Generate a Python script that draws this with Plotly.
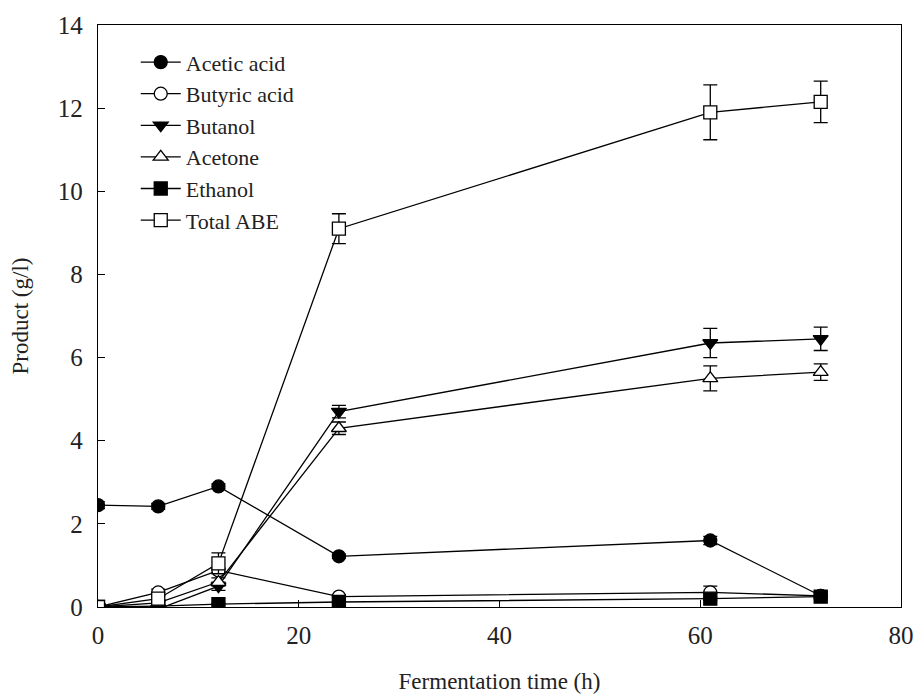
import plotly.graph_objects as go

time_h = [0, 6, 12, 24, 61, 72]

acetic = [2.45, 2.42, 2.9, 1.22, 1.6, 0.27]
acetic_err = [0.08, 0.07, 0.06, 0.05, 0.1, 0.1]

butyric = [0.0, 0.35, 0.88, 0.25, 0.35, 0.27]
butyric_err = [0.03, 0.08, 0.05, 0.05, 0.15, 0.06]

butanol = [0.0, -0.05, 0.5, 4.7, 6.35, 6.45]
butanol_err = [0.02, 0.05, 0.1, 0.15, 0.35, 0.28]

acetone = [0.0, 0.1, 0.6, 4.3, 5.5, 5.65]
acetone_err = [0.02, 0.05, 0.1, 0.15, 0.3, 0.2]

ethanol = [0.0, 0.02, 0.07, 0.12, 0.2, 0.25]
ethanol_err = [0.01, 0.01, 0.02, 0.03, 0.04, 0.04]

total_abe = [0.0, 0.2, 1.05, 9.1, 11.9, 12.15]
total_err = [0.03, 0.08, 0.25, 0.36, 0.66, 0.5]

series = [
    ("Acetic acid", acetic, acetic_err, "circle", "black"),
    ("Butyric acid", butyric, butyric_err, "circle", "white"),
    ("Butanol", butanol, butanol_err, "triangle-down", "black"),
    ("Acetone", acetone, acetone_err, "triangle-up", "white"),
    ("Ethanol", ethanol, ethanol_err, "square", "black"),
    ("Total ABE", total_abe, total_err, "square", "white"),
]

fig = go.Figure()
for name, y, err, sym, fill in series:
    fig.add_trace(go.Scatter(
        x=time_h, y=y, name=name, mode="lines+markers",
        line=dict(color="black", width=1.3),
        marker=dict(symbol=sym, size=13, color=fill,
                    line=dict(color="black", width=1.3)),
        error_y=dict(type="data", array=err, visible=True,
                     color="black", thickness=1.3, width=7),
    ))

font_family = "Liberation Serif"
fig.update_layout(
    width=915, height=698,
    margin=dict(l=98, r=14, t=25, b=91),
    paper_bgcolor="white", plot_bgcolor="white",
    font=dict(family=font_family, color="#222", size=22),
    showlegend=True,
    legend=dict(x=0.047, y=0.972, xanchor="left", yanchor="top",
                bgcolor="rgba(0,0,0,0)", font=dict(size=22, family=font_family),
                tracegroupgap=0, itemwidth=40),
    xaxis=dict(range=[0, 80], tickvals=[0, 20, 40, 60, 80],
               ticks="inside", ticklen=7, tickcolor="black",
               showline=True, linecolor="black", linewidth=1.3, mirror=True,
               showgrid=False, zeroline=False, automargin=False,
               ticklabelstandoff=6,
               tickfont=dict(size=25, family=font_family),
               title=dict(text="Fermentation time (h)", font=dict(size=23, family=font_family),
                          standoff=24)),
    yaxis=dict(range=[0, 14], tickvals=[0, 2, 4, 6, 8, 10, 12, 14],
               ticks="inside", ticklen=7, tickcolor="black",
               showline=True, linecolor="black", linewidth=1.3, mirror=True,
               showgrid=False, zeroline=False, automargin=False,
               ticklabelstandoff=9,
               tickfont=dict(size=25, family=font_family),
               title=dict(text="Product (g/l)", font=dict(size=23, family=font_family),
                          standoff=22)),
)

fig.write_html("out.html")
